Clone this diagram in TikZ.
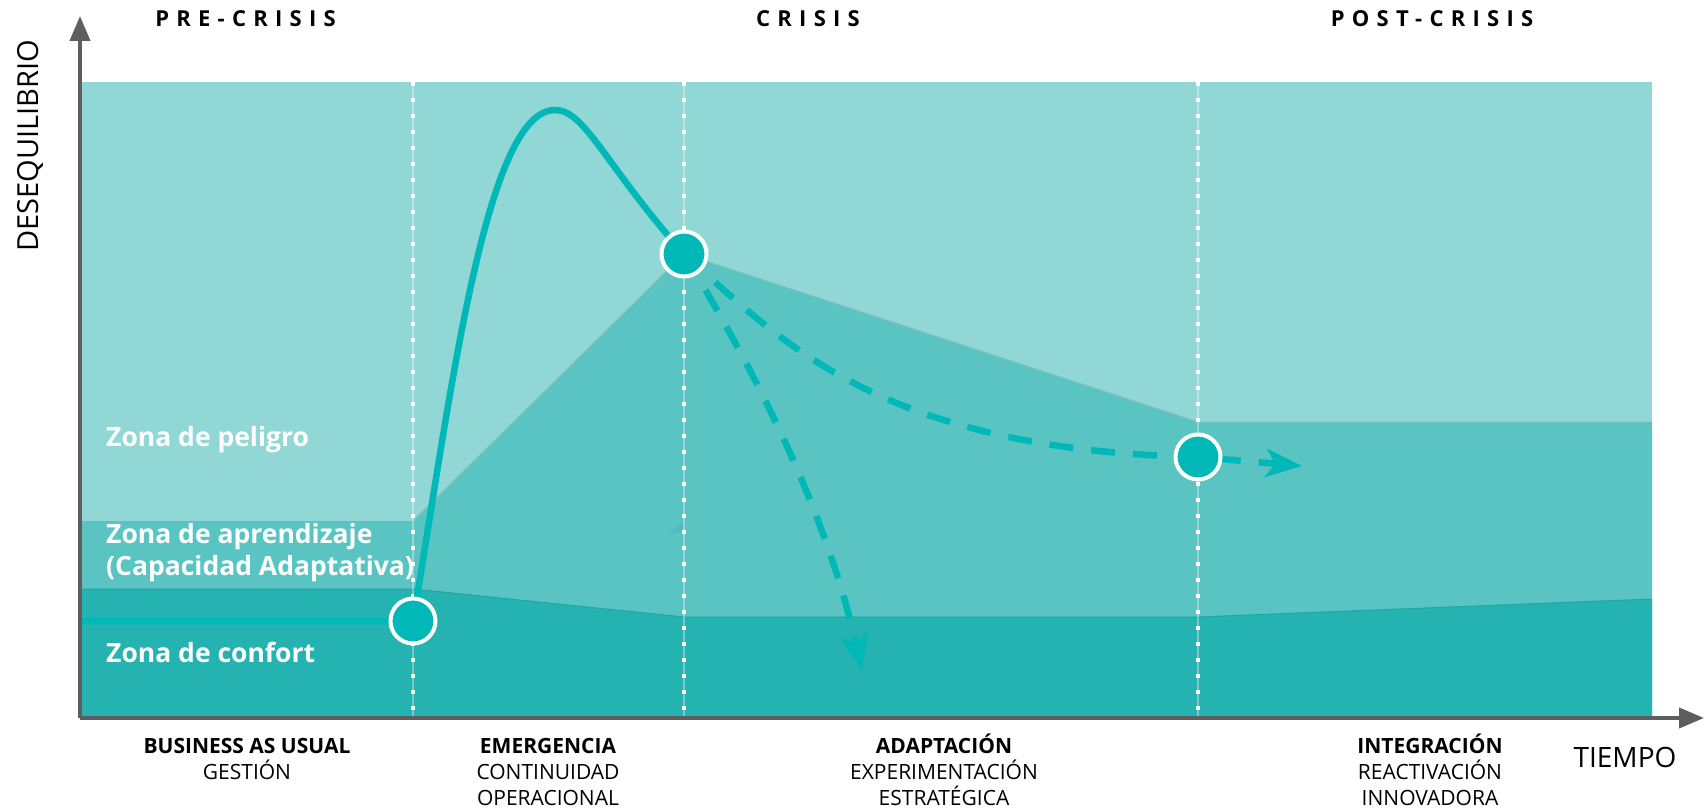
\documentclass[tikz,border=0pt]{standalone}
\usepackage{fontspec}
\setmainfont{Open Sans}
\newfontfamily\spaced[LetterSpace=33]{Open Sans}
\usetikzlibrary{arrows.meta}
\definecolor{lightz}{HTML}{91D7D6}
\definecolor{midz}{HTML}{5AC4C3}
\definecolor{darkz}{HTML}{25B3B1}
\definecolor{linec}{HTML}{00B8B7}
\definecolor{axisc}{HTML}{5E5E5E}
\definecolor{edgelm}{HTML}{7FC0BF}
\definecolor{edgemd}{HTML}{1FA6A5}
\begin{document}
\begin{tikzpicture}[x=1pt,y=-1pt,
  zone/.style={font=\bfseries\fontsize{26.5}{30}\selectfont, text=white, anchor=base west, inner sep=0pt},
  phasetitle/.style={font=\spaced\bfseries\fontsize{22}{26}\selectfont, anchor=base, inner sep=0pt},
  labbold/.style={font=\bfseries\fontsize{21}{26}\selectfont, anchor=base, inner sep=0pt},
  labreg/.style={font=\fontsize{21}{26}\selectfont, anchor=base, inner sep=0pt},
  axislabel/.style={font=\fontsize{28}{32}\selectfont, inner sep=0pt},
  axisline/.style={draw=axisc, line width=4pt, -{Triangle[length=25pt,width=20pt]}},
  dotline/.style={draw=white, line width=4pt, dash pattern=on 4pt off 12pt},
  faintline/.style={draw=white, draw opacity=0.35, line width=1.2pt},
  mainline/.style={draw=linec, line width=6.5pt, line join=round},
  dashline/.style={draw=linec, line width=6.5pt, dash pattern=on 24pt off 18pt,
     -{Stealth[length=36pt,width=28pt,inset=9pt]}},
  bigdot/.style={circle, fill=linec, draw=white, line width=4pt, minimum size=45pt, inner sep=0pt}
]
\useasboundingbox (0,0) rectangle (1708,808);

% zones
\fill[lightz] (82,82) rectangle (1652,716);
\fill[midz] (82,521) -- (413,521) -- (684,254) -- (1198,422) -- (1652,422) -- (1652,716) -- (82,716) -- cycle;
\fill[darkz] (82,589) -- (413,589) -- (684,617) -- (1198,617) -- (1652,599) -- (1652,716) -- (82,716) -- cycle;
\draw[edgelm, line width=1pt] (413,521) -- (684,254) -- (1198,422) -- (1652,422);
\draw[edgemd, line width=1pt] (82,589) -- (413,589) -- (684,617) -- (1198,617) -- (1652,599);
\fill[midz!70!darkz] (670,533) -- (683,533) -- (683,521) -- cycle;

% phase separators
\foreach \xx in {413,684,1198}{
  \draw[faintline] (\xx,82) -- (\xx,716);
  \draw[dotline] (\xx,82) -- (\xx,716);
}

% coordinates
\coordinate (y0) at (80,621);
\coordinate (p1) at (413,621);
\coordinate (pk) at (555,110);
\coordinate (p2) at (684,254);
\coordinate (p3) at (1198,457);
\coordinate (e1) at (862,670);
\coordinate (e2) at (1302,466);

% dashed futures
\draw[dashline] (p2) .. controls (730,330) and (820,485) .. (e1);
\draw[dashline] (p2) .. controls (780,340) and (880,450) .. (p3) -- (e2);

% main curve
\draw[mainline] (y0) -- (p1) .. controls (450,400) and (485,110) .. (pk)
  .. controls (585,110) and (605,165) .. (p2);

% points
\node[bigdot] (d1) at (p1) {};
\node[bigdot] (d2) at (p2) {};
\node[bigdot] (d3) at (p3) {};

% axes
\coordinate (o) at (80,718);
\coordinate (ytop) at (80,16);
\coordinate (xend) at (1704,718);
\draw[axisline] (o) -- (ytop);
\draw[axisline] (o) -- (xend);

% zone labels
\node[zone] (zp) at (106,446) {Zona de peligro};
\node[zone] (za) at (106,543) {Zona de aprendizaje};
\node[zone] (zc) at (106,575) {(Capacidad Adaptativa)};
\node[zone] (zf) at (106,662) {Zona de confort};

% titles
\node[phasetitle] (t1) at (245.5,27) {PRE-CRISIS};
\node[phasetitle] (t2) at (808,27) {CRISIS};
\node[phasetitle] (t3) at (1432,27) {POST-CRISIS};

% axis labels
\node[axislabel, rotate=90, anchor=base, font=\fontsize{29}{33}\selectfont] (ylab) at (38,146) {DESEQUILIBRIO};
\node[axislabel, anchor=base] (xlab) at (1625,767) {TIEMPO};

% bottom labels
\node[labbold] (b1) at (247,753) {BUSINESS AS USUAL};
\node[labreg]  (b2) at (247,779) {GESTIÓN};
\node[labbold] (e1a) at (548,753) {EMERGENCIA};
\node[labreg]  (e1b) at (548,779) {CONTINUIDAD};
\node[labreg]  (e1c) at (548,805) {OPERACIONAL};
\node[labbold] (a1) at (944,753) {ADAPTACIÓN};
\node[labreg]  (a2) at (944,779) {EXPERIMENTACIÓN};
\node[labreg]  (a3) at (944,805) {ESTRATÉGICA};
\node[labbold] (i1) at (1430,753) {INTEGRACIÓN};
\node[labreg]  (i2) at (1430,779) {REACTIVACIÓN};
\node[labreg]  (i3) at (1430,805) {INNOVADORA};
\end{tikzpicture}
\end{document}
